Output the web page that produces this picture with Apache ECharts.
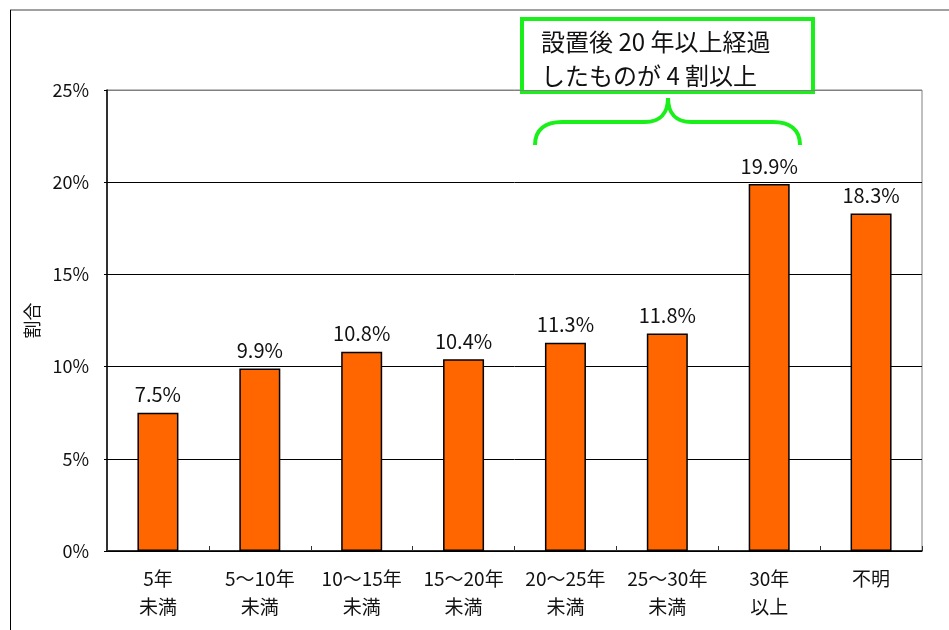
<!DOCTYPE html>
<html><head><meta charset="utf-8">
<script src="https://cdn.jsdelivr.net/npm/echarts@6/dist/echarts.min.js"></script>
<style>html,body{margin:0;padding:0;background:#fff}#c{width:949px;height:630px}</style>
</head><body><div id="c"></div>
<script>
const categories = ['5年\n未満','5～10年\n未満','10～15年\n未満','15～20年\n未満','20～25年\n未満','25～30年\n未満','30年\n以上','不明'];
const values = [7.5, 9.9, 10.8, 10.4, 11.3, 11.8, 19.9, 18.3];
const yTicks = [0, 5, 10, 15, 20, 25];
const annotationLines = ['設置後 20 年以上経過', 'したものが 4 割以上'];

const FONT = '"Noto Sans CJK JP", "Noto Sans", sans-serif';
const GREEN = '#19ef19';
const braceStyle = {fill: 'none', stroke: GREEN, lineWidth: 4};
const chart = echarts.init(document.getElementById('c'), null, {renderer: 'canvas'});
chart.setOption({
  animation: false,
  backgroundColor: '#fff',
  grid: {left: 107, top: 90, right: 27, bottom: 79, show: true, borderColor: '#808080', borderWidth: 1},
  xAxis: {
    type: 'category', data: categories,
    axisLine: {lineStyle: {color: '#000', width: 1.5}},
    axisTick: {show: true, inside: true, length: 5, interval: 0, lineStyle: {color: '#333'}},
    axisLabel: {interval: 0, hideOverlap: false, color: '#111', fontSize: 19, fontFamily: FONT, lineHeight: 28, margin: 14}
  },
  yAxis: {
    type: 'value', min: yTicks[0], max: yTicks[yTicks.length-1], interval: 5,
    name: '割合', nameLocation: 'middle', nameRotate: 90, nameGap: 63,
    nameTextStyle: {color: '#111', fontSize: 18, fontFamily: FONT},
    axisLine: {show: true, lineStyle: {color: '#000', width: 1.5}},
    axisTick: {show: true, length: 3, lineStyle: {color: '#000'}},
    axisLabel: {color: '#111', fontSize: 18, fontFamily: FONT, margin: 18, formatter: v => v + '%'},
    splitLine: {lineStyle: {color: ['#000','#000','#000','#000','#000','#808080'], width: 1}}
  },
  series: [{
    type: 'bar', data: values, barWidth: 41,
    itemStyle: {color: '#ff6600', borderColor: '#000', borderWidth: 1.5},
    label: {show: true, position: 'top', distance: 8, color: '#111', fontSize: 20, fontFamily: FONT, formatter: p => p.value.toFixed(1) + '%'}
  }],
  graphic: [
    {type: 'line', shape: {x1: 10, y1: 10, x2: 949, y2: 10}, style: {stroke: '#808080', lineWidth: 1.5}},
    {type: 'line', shape: {x1: 10.5, y1: 10, x2: 10.5, y2: 630}, style: {stroke: '#000', lineWidth: 1}},
    {type: 'rect', shape: {x: 522, y: 19, width: 291, height: 73}, style: {fill: '#fff', stroke: GREEN, lineWidth: 4}},
    {type: 'text', x: 541, y: 42, style: {text: annotationLines[0], font: '24px ' + FONT, fill: '#111', textVerticalAlign: 'middle', verticalAlign: 'middle'}},
    {type: 'text', x: 541, y: 76, style: {text: annotationLines[1], font: '24px ' + FONT, fill: '#111', textVerticalAlign: 'middle', verticalAlign: 'middle'}},
    {type: 'bezierCurve', shape: {x1: 535, y1: 145, cpx1: 535, cpy1: 130, cpx2: 545, cpy2: 122, x2: 562, y2: 122}, style: braceStyle},
    {type: 'line', shape: {x1: 562, y1: 122, x2: 645, y2: 122}, style: braceStyle},
    {type: 'bezierCurve', shape: {x1: 645, y1: 122, cpx1: 660, cpy1: 122, cpx2: 668, cpy2: 113, x2: 668, y2: 98}, style: braceStyle},
    {type: 'bezierCurve', shape: {x1: 668, y1: 98, cpx1: 668, cpy1: 113, cpx2: 676, cpy2: 122, x2: 691, y2: 122}, style: braceStyle},
    {type: 'line', shape: {x1: 691, y1: 122, x2: 773, y2: 122}, style: braceStyle},
    {type: 'bezierCurve', shape: {x1: 773, y1: 122, cpx1: 790, cpy1: 122, cpx2: 800, cpy2: 130, x2: 800, y2: 145}, style: braceStyle}
  ]
});
</script></body></html>
